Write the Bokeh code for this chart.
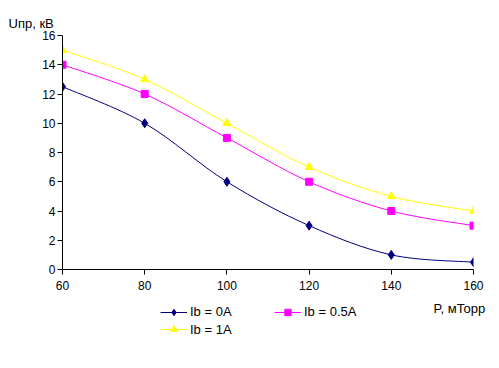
from bokeh.plotting import figure
from bokeh.layouts import column
from bokeh.models import Range1d, Label, Legend, LegendItem, FixedTicker, Title
from bokeh.embed import file_html
from bokeh.resources import INLINE

# ---- data ----
pressure = [60, 80, 100, 120, 140, 160]
u_ib0 = [12.5, 10, 6, 3, 1, 0.5]
u_ib05 = [14, 12, 9, 6, 4, 3]
u_ib1 = [15, 13, 10, 7, 5, 4]
series_labels = ["Ib = 0A", "Ib = 0.5A", "Ib = 1A"]
x_ticks = [60, 80, 100, 120, 140, 160]
y_ticks = [0, 2, 4, 6, 8, 10, 12, 14, 16]
y_title = "Uпр, кВ"
x_title = "P, мТорр"

FONT = "Liberation Sans"
W = 499

p = figure(frame_width=411, frame_height=234,
           min_border_left=62, min_border_right=W - 62 - 411,
           min_border_top=35, min_border_bottom=26,
           x_range=Range1d(60, 160), y_range=Range1d(0, 16),
           output_backend="svg", toolbar_location=None, tools="")
p.outline_line_color = None
p.grid.visible = False
p.background_fill_color = "white"
p.border_fill_color = "white"

for ax, ticks in ((p.xaxis, x_ticks), (p.yaxis, y_ticks)):
    ax.ticker = FixedTicker(ticks=ticks)
    ax.axis_line_color = "black"
    ax.major_tick_line_color = "black"
    ax.major_tick_out = 5
    ax.major_tick_in = 0
    ax.minor_tick_line_color = None
    ax.major_label_text_font = FONT
    ax.major_label_text_font_size = "12px"
    ax.major_label_text_color = "black"
p.xaxis.major_label_standoff = 6
p.yaxis.major_label_standoff = 2

p.add_layout(Title(text=y_title, align="left", offset=-54, standoff=10,
                   text_font=FONT, text_font_size="13px",
                   text_font_style="normal", text_color="black"), "above")


def smooth_segments(xs, ys):
    n = len(xs)
    x0, y0, x1, y1, cx0, cy0, cx1, cy1 = [], [], [], [], [], [], [], []
    for i in range(n - 1):
        xm, ym = (xs[i - 1], ys[i - 1]) if i > 0 else (xs[i], ys[i])
        xp, yp = (xs[i + 2], ys[i + 2]) if i + 2 < n else (xs[i + 1], ys[i + 1])
        x0.append(xs[i]); y0.append(ys[i])
        x1.append(xs[i + 1]); y1.append(ys[i + 1])
        cx0.append(xs[i] + (xs[i + 1] - xm) / 6.0)
        cy0.append(ys[i] + (ys[i + 1] - ym) / 6.0)
        cx1.append(xs[i + 1] - (xp - xs[i]) / 6.0)
        cy1.append(ys[i + 1] - (yp - ys[i]) / 6.0)
    return dict(x0=x0, y0=y0, x1=x1, y1=y1, cx0=cx0, cy0=cy0, cx1=cx1, cy1=cy1)


styles = [
    (u_ib0, "#000080", "diamond", 9),
    (u_ib05, "#FF00FF", "square", 7),
    (u_ib1, "#FFFF00", "triangle", 8),
]

for ys, color, marker, size in styles:
    p.bezier(line_color=color, line_width=1, **smooth_segments(pressure, ys))
    p.scatter(pressure, ys, marker=marker, size=size,
              fill_color=color, line_color=color)

# ---- lower strip: legend and x-axis title ----
TOP = 295
H2 = 368 - TOP
p2 = figure(frame_width=W, frame_height=H2, min_border=0,
            x_range=Range1d(0, 1), y_range=Range1d(0, 1),
            x_axis_type=None, y_axis_type=None,
            output_backend="svg", toolbar_location=None, tools="")
p2.outline_line_color = None
p2.grid.visible = False
p2.background_fill_color = "white"
p2.border_fill_color = "white"

items = []
for (ys, color, marker, size), lab in zip(styles, series_labels):
    ln = p2.line([-5, -4], [-5, -5], line_color=color, line_width=1)
    sc = p2.scatter([-5], [-5], marker=marker, size=size,
                    fill_color=color, line_color=color)
    items.append(LegendItem(label=lab, renderers=[ln, sc]))


def make_legend(its, loc):
    return Legend(items=its, location=loc, orientation="horizontal",
                  padding=0, margin=0, spacing=0,
                  glyph_width=27, glyph_height=16,
                  label_standoff=3, label_height=16, label_width=84,
                  label_text_font=FONT, label_text_font_size="13px",
                  label_text_color="black",
                  border_line_color=None, background_fill_alpha=0)


p2.add_layout(make_legend(items[:2], (160, 368 - 319.5)), "center")
p2.add_layout(make_legend(items[2:], (160, 368 - 337)), "center")

p2.add_layout(Label(x=433 - 62, y=368 - 308, x_units="screen", y_units="screen",
                    text=x_title, text_font=FONT,
                    text_font_size="13px", text_color="black",
                    text_baseline="alphabetic"))

layout = column(p, p2, spacing=0)
open("out.html", "w").write(file_html(layout, INLINE))
